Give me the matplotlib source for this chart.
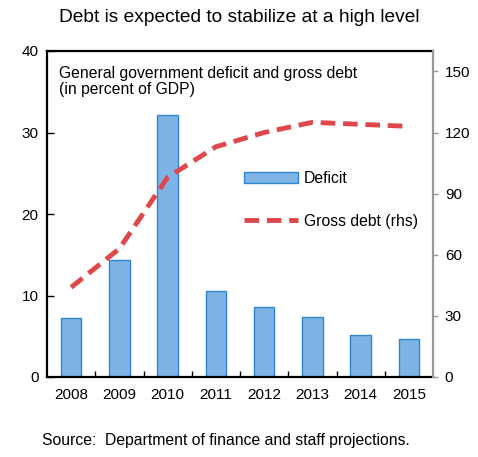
import matplotlib
matplotlib.use("Agg")
import matplotlib.pyplot as plt
import numpy as np

plt.rcParams['font.family'] = ['Liberation Sans', 'DejaVu Sans']

years = ['2008', '2009', '2010', '2011', '2012', '2013', '2014', '2015']
deficit = [7.3, 14.3, 32.1, 10.5, 8.6, 7.4, 5.1, 4.7]
gross_debt = [44, 63, 98, 113, 120, 125, 124, 123]

left_ticks = [0, 10, 20, 30, 40]
right_ticks = [0, 30, 60, 90, 120, 150]

bar_color = '#7DB3E5'
bar_edge = '#2F86CF'
line_color = '#E0474C'

fig = plt.figure(figsize=(4.78, 4.57), dpi=100)
ax = fig.add_axes([47 / 478, 1 - 377 / 457, 386 / 478, 326 / 457])
x = np.arange(len(years))

ax.bar(x, deficit, width=0.43, color=bar_color, edgecolor=bar_edge,
       linewidth=1.0, label='Deficit', zorder=2)
ax.set_xlim(-0.5, len(years) - 0.5)
ax.set_ylim(0, 40)
ax.set_yticks(left_ticks)
ax.set_xticks(x)
ax.set_xticklabels(years)
ax.set_xticks(np.arange(0.5, len(years) - 1, 1), minor=True)
ax.tick_params(axis='x', which='major', length=0, pad=8, labelsize=11)
ax.tick_params(axis='x', which='minor', direction='in', length=4, width=1)
ax.tick_params(axis='y', direction='in', length=5, width=1, pad=6, labelsize=11)
for s in ['left', 'bottom', 'top']:
    ax.spines[s].set_linewidth(1.6)
ax.spines['right'].set_visible(False)

ax2 = ax.twinx()
ax2.plot(x, gross_debt, color=line_color, lw=3.5, ls=(0, (3, 1.6)),
         label='Gross debt (rhs)', zorder=3)
ax2.set_ylim(0, 160)
ax2.set_yticks(right_ticks)
ax2.tick_params(axis='y', direction='out', length=3.5, width=1, color='#999999',
                pad=5, labelsize=11)
ax2.spines['right'].set_color('#999999')
ax2.spines['right'].set_linewidth(1.6)
for s in ['left', 'bottom', 'top']:
    ax2.spines[s].set_visible(False)

ax.text(0.03, 0.955, 'General government deficit and gross debt\n(in percent of GDP)',
        transform=ax.transAxes, ha='left', va='top', fontsize=11.3, linespacing=1.1)

h1, l1 = ax.get_legend_handles_labels()
h2, l2 = ax2.get_legend_handles_labels()
ax2.legend(h1 + h2, l1 + l2, loc='upper left', bbox_to_anchor=(0.475, 0.675),
           frameon=False, fontsize=11.3, handlelength=3.4, labelspacing=1.75,
           handletextpad=0.4, handleheight=0.7)

fig.text(0.5, 1 - 18 / 457, 'Debt is expected to stabilize at a high level',
         ha='center', va='center', fontsize=13.8)
fig.text(42 / 478, 1 - 441 / 457, 'Source:  Department of finance and staff projections.',
         ha='left', va='center', fontsize=11.3)

fig.savefig('out.png', dpi=100)
